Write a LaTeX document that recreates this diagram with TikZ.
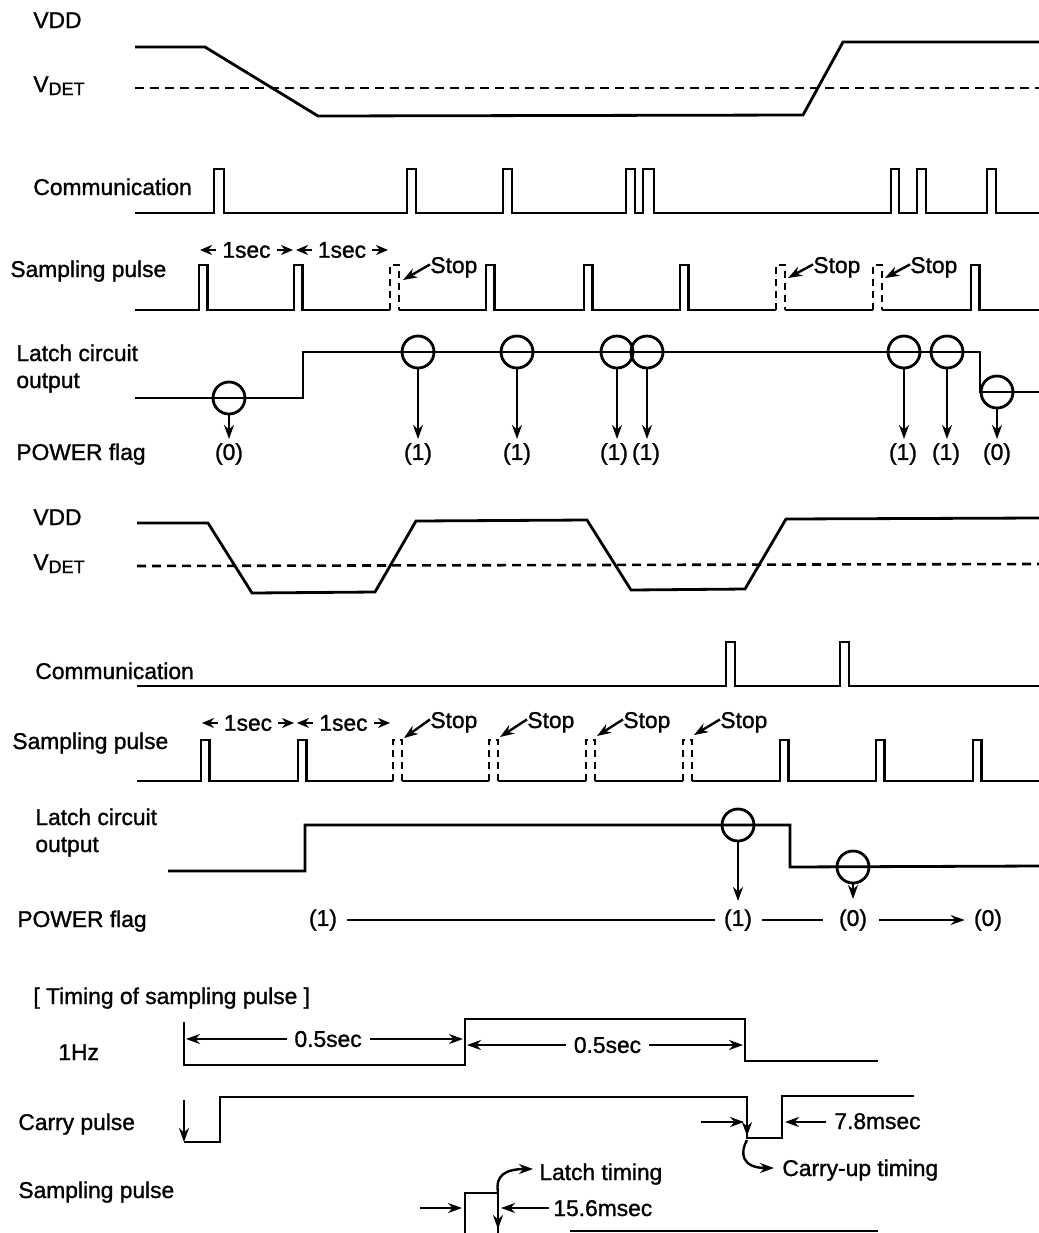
\documentclass[tikz,border=0pt]{standalone}
\usepackage{fontspec}
\setmainfont{Liberation Sans}[BoldFont=Liberation Sans, BoldFeatures={FakeBold=1.2}]
\usetikzlibrary{arrows.meta}
\begin{document}
\begin{tikzpicture}[x=0.5pt,y=-0.5pt,
  sig/.style={line width=1.4pt, line join=miter},
  thinline/.style={line width=0.9pt},
  dsh/.style={line width=1.3pt, dash pattern=on 3.5pt off 2.5pt},
  vdet/.style={line width=1.3pt, dash pattern=on 4.5pt off 3pt},
  arr/.style={line width=1.2pt, -{Stealth[length=7pt,width=5pt]}},
  darr/.style={line width=1.2pt, {Stealth[length=7pt,width=5pt]}-{Stealth[length=7pt,width=5pt]}},
  sarr/.style={line width=1.2pt, {Stealth[length=6pt,width=5pt]}-{Stealth[length=6pt,width=5pt]}},
  lab/.style={font=\fontsize{11.4}{13.5}\selectfont\bfseries, inner sep=0pt, anchor=base west},
  val/.style={font=\fontsize{11.4}{13.5}\selectfont\bfseries, inner sep=0pt},
  circ/.style={circle, draw, line width=1.4pt, minimum size=16pt, inner sep=0pt},
  gapnode/.style={val, fill=white, inner xsep=3pt},
]
\useasboundingbox (0,0) rectangle (1039,1233);

% ================= Section 1 =================
\node[lab] (vdd1) at (33,28) {VDD};
\node[lab] (vdet1) at (33,92) {V\raisebox{-1.5pt}{\fontsize{9}{10}\selectfont DET}};
\node[lab] (com1) at (33,195) {Communication};
\node[lab] (smp1) at (10,277) {Sampling pulse};
\node[lab, align=left, anchor=base west] (lat1) at (16,388) {Latch circuit\\output};
\node[lab] (pwr1) at (16,460) {POWER flag};

\draw[sig] (135,47) -- (205,47) -- (318,116) -- (803,115) -- (843,42) -- (1039,42);
\draw[vdet] (135,88) -- (1039,88);

\draw[sig] (135,213) -| (214,169) -| (224,213) -| (407,169) -| (416,213)
  -| (503,169) -| (512,213) -| (626,169) -| (635,213) -| (643,169) -| (654,213)
  -| (891,169) -| (899,213) -| (917,169) -| (926,213) -| (987,169) -| (996,213) -- (1039,213);

\draw[sig] (135,310) -| (199,265) -| (207.5,310) -| (294,265) -| (302.5,310) -- (390,310);
\draw[dsh] (390,310) |- (399,265) -- (399,310);
\draw[sig] (399,310) -| (486,265) -| (494.5,310) -| (584,265) -| (592.5,310) -| (680,265) -| (688.5,310) -- (776,310);
\draw[dsh] (776,310) |- (785,265) -- (785,310);
\draw[sig] (785,310) -- (873,310);
\draw[dsh] (873,310) |- (882,265) -- (882,310);
\draw[sig] (882,310) -| (971,265) -| (979.5,310) -- (1039,310);

\draw[sarr] (200,250) -- (293,250) node[gapnode, midway] (sec1a) {1sec};
\draw[sarr] (296,250) -- (388,250) node[gapnode, midway] (sec1b) {1sec};

\node[lab] (st1a) at (430,273) {Stop};
\node[lab] (st1b) at (813,273) {Stop};
\node[lab] (st1c) at (910,273) {Stop};
\coordinate (t1a) at (403,280);
\coordinate (t1b) at (788,278);
\coordinate (t1c) at (885,278);
\draw[arr] ([yshift=1.5pt]st1a.west) -- (t1a);
\draw[arr] ([yshift=1.5pt]st1b.west) -- (t1b);
\draw[arr] ([yshift=1.5pt]st1c.west) -- (t1c);

\draw[sig] (135,398) -| (303,352) -| (980,392) -- (1039,392);
\node[circ] (a1) at (229,398) {};
\node[circ] (a2) at (418,352) {};
\node[circ] (a3) at (517,352) {};
\node[circ] (a4) at (617,352) {};
\node[circ] (a5) at (647,352) {};
\node[circ] (a6) at (904,352) {};
\node[circ] (a7) at (947,352) {};
\node[circ] (a8) at (997,392) {};
\node[val] (f1) at (229,454) {(0)};
\node[val] (f2) at (418,454) {(1)};
\node[val] (f3) at (517,454) {(1)};
\node[val] (f4) at (614,454) {(1)};
\node[val] (f5) at (646,454) {(1)};
\node[val] (f6) at (903,454) {(1)};
\node[val] (f7) at (946,454) {(1)};
\node[val] (f8) at (997,454) {(0)};
\foreach \i in {1,...,8} {
  \draw[arr, shorten >=2pt] (a\i.south) -- (a\i.south |- f\i.north);
}

% ================= Section 2 =================
\node[lab] (vdd2) at (33,525) {VDD};
\node[lab] (vdet2) at (33,570) {V\raisebox{-1.5pt}{\fontsize{9}{10}\selectfont DET}};
\node[lab] (com2) at (35,679) {Communication};
\node[lab] (smp2) at (12,749) {Sampling pulse};
\node[lab, align=left] (lat2) at (35,852) {Latch circuit\\output};
\node[lab] (pwr2) at (17,927) {POWER flag};

\draw[sig] (137,523) -- (208,523) -- (252,593) -- (375,592) -- (416,521) -- (587,520)
  -- (631,590) -- (745,589) -- (786,519) -- (1039,518);
\draw[vdet] (137,566) -- (1039,564);

\draw[sig] (137,686) -| (726,642) -| (735,686) -| (840,642) -| (849,686) -- (1039,686);

\draw[sig] (137,781) -| (201,740) -| (209.5,781) -| (298,740) -| (306.5,781) -- (393,781);
\draw[dsh] (393,781) |- (402,740) -- (402,781);
\draw[sig] (402,781) -- (489,781);
\draw[dsh] (489,781) |- (498,740) -- (498,781);
\draw[sig] (498,781) -- (586,781);
\draw[dsh] (586,781) |- (595,740) -- (595,781);
\draw[sig] (595,781) -- (683,781);
\draw[dsh] (683,781) |- (692,740) -- (692,781);
\draw[sig] (692,781) -| (780,740) -| (788.5,781) -| (876,740) -| (884.5,781) -| (973,740) -| (981.5,781) -- (1039,781);

\draw[sarr] (202,723) -- (294,723) node[gapnode, midway] (sec2a) {1sec};
\draw[sarr] (297,723) -- (390,723) node[gapnode, midway] (sec2b) {1sec};

\node[lab] (st2a) at (430,728) {Stop};
\node[lab] (st2b) at (527,728) {Stop};
\node[lab] (st2c) at (623,728) {Stop};
\node[lab] (st2d) at (720,728) {Stop};
\coordinate (t2a) at (404,738);
\coordinate (t2b) at (500,737);
\coordinate (t2c) at (597,736);
\coordinate (t2d) at (694,735);
\draw[arr] ([yshift=1.5pt]st2a.west) -- (t2a);
\draw[arr] ([yshift=1.5pt]st2b.west) -- (t2b);
\draw[arr] ([yshift=1.5pt]st2c.west) -- (t2c);
\draw[arr] ([yshift=1.5pt]st2d.west) -- (t2d);

\draw[sig] (168,871) -| (305,825) -| (790,867) -- (1039,866);
\node[circ] (b1) at (738,825) {};
\node[circ] (b2) at (853,867) {};

\node[val] (g0) at (323,920) {(1)};
\node[val] (g1) at (738,920) {(1)};
\node[val] (g2) at (853,920) {(0)};
\node[val] (g3) at (988,920) {(0)};
\draw[arr, shorten >=4pt] (b1.south) -- (g1.north);
\draw[arr, shorten >=5pt] (b2.south) -- (g2.north);
\draw[thinline] ([xshift=5pt]g0.east) -- ([xshift=-4.5pt]g1.west);
\draw[thinline] ([xshift=5pt]g1.east) -- ([xshift=-8pt]g2.west);
\draw[arr, line width=0.9pt] ([xshift=6pt]g2.east) -- ([xshift=-4.5pt]g3.west);

% ================= Section 3 =================
\node[lab] (tim) at (33,1004) {[ Timing of sampling pulse ]};
\node[lab] (hz) at (58,1060) {1Hz};
\node[lab] (car) at (18,1130) {Carry pulse};
\node[lab] (smp3) at (18,1198) {Sampling pulse};

\draw[sig] (184,1022) -- (184,1065) -- (465,1065) -- (465,1019) -- (745,1019) -- (745,1061) -- (878,1061);
\draw[darr] (186,1039) -- (463,1039) node[gapnode, pos=0.513, inner xsep=4pt] (h1) {0.5sec};
\draw[darr] (467,1045) -- (743,1045) node[gapnode, pos=0.509, inner xsep=4pt] (h2) {0.5sec};

\draw[arr] (184,1100) -- (184,1142);
\draw[sig] (184,1142) -- (220,1142) -- (220,1097) -- (747,1097) -- (747,1138) -- (782,1138) -- (782,1096) -- (914,1096);
\draw[arr] (747,1100) -- (747,1136);
\coordinate (cin) at (701,1122);
\coordinate (cin2) at (826,1122);
\draw[arr] (cin) -- (744,1122);
\draw[arr] (cin2) -- (785,1122);
\node[lab] (ms78) at (834,1129) {7.8msec};
\node[lab] (cut) at (782,1176) {Carry-up timing};
\draw[arr] (747,1140) .. controls (740,1152) and (741,1168) .. ([xshift=-4pt]cut.west |- 0,1168);

\draw[sig] (465,1233) -- (465,1193) -- (498,1193) -- (498,1233);
\draw[arr] (498,1196) -- (498,1229);
\draw[sig] (570,1231) -- (878,1231);
\draw[arr] (420,1208) -- (462,1208);
\node[lab] (ms156) at (553,1216) {15.6msec};
\draw[arr] ([xshift=-2pt]ms156.west |- 0,1208) -- (501,1208);
\node[lab] (lt) at (539,1180) {Latch timing};
\draw[arr] (498,1192) .. controls (495,1176) and (505,1169) .. ([xshift=-3pt]lt.west |- 0,1169);
\end{tikzpicture}
\end{document}
